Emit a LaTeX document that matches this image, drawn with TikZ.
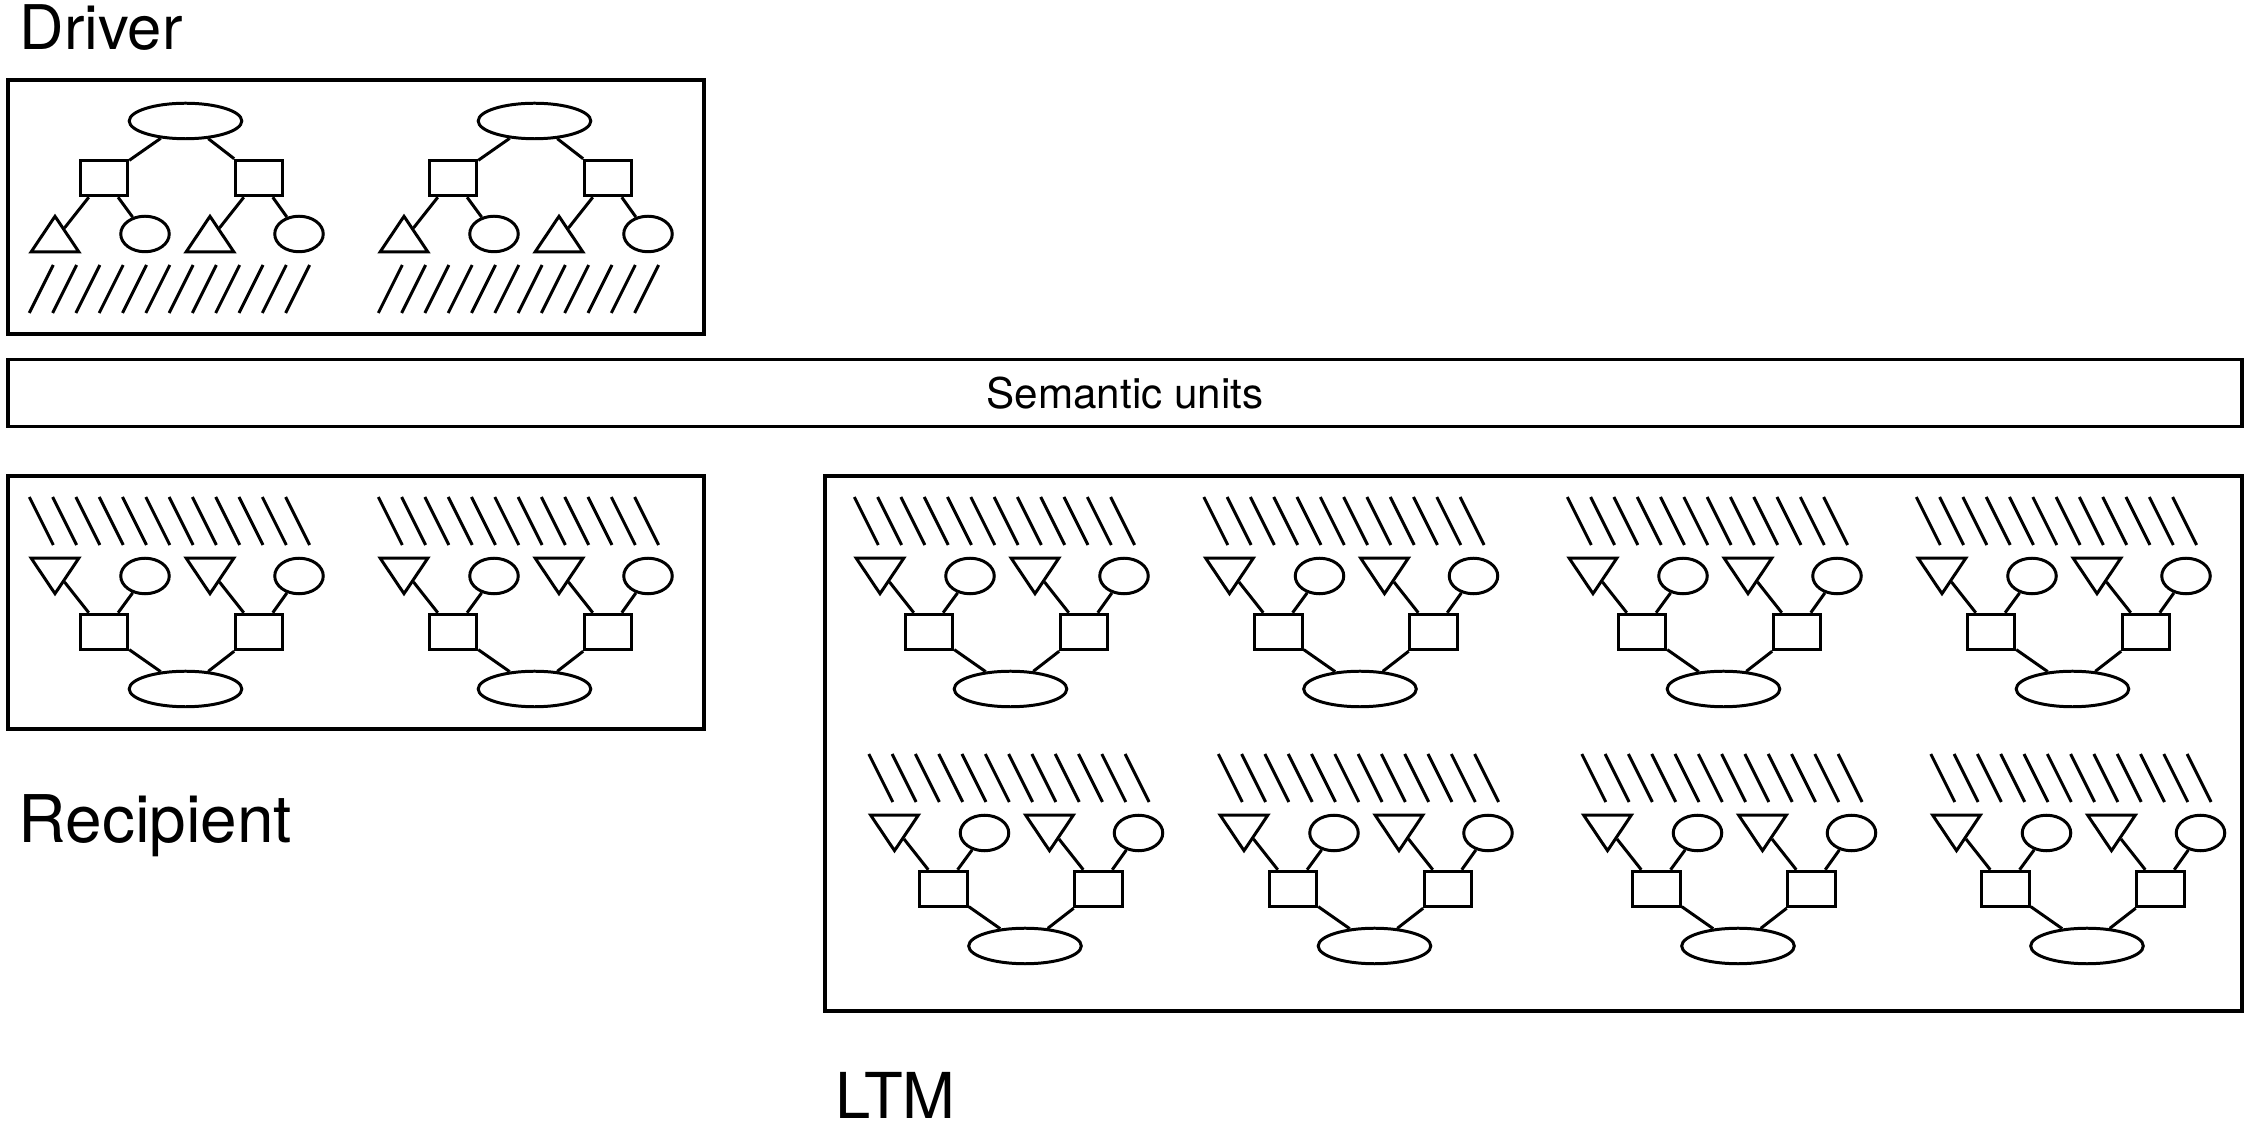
\documentclass[tikz,border=0pt]{standalone}
\usepackage{fontspec}
\setmainfont{TeX Gyre Heros}
\usetikzlibrary{shapes.geometric}

\begin{document}
\begin{tikzpicture}[x=0.01cm,y=-0.01cm,
  box/.style={draw,line width=0.95pt},
  prop/.style={draw,ellipse,line width=0.85pt,inner sep=0pt,minimum width=1.125cm,minimum height=0.355cm},
  rb/.style={draw,rectangle,line width=0.85pt,inner sep=0pt,minimum width=0.475cm,minimum height=0.355cm},
  pred/.style={draw,regular polygon,regular polygon sides=3,line width=0.85pt,inner sep=0pt,minimum size=0.55cm,yscale=0.86},
  obj/.style={draw,ellipse,line width=0.85pt,inner sep=0pt,minimum width=0.485cm,minimum height=0.355cm},
  link/.style={line width=0.85pt},
  hatch/.style={line width=0.85pt},
  lbl/.style={anchor=base west,inner sep=0pt,font=\fontsize{17.5}{20}\selectfont}]
\useasboundingbox (0,0) rectangle (2250,1128);

% Memory stores
\draw[box] (8,80) rectangle (704,334);
\draw[box] (8,476) rectangle (704,729);
\draw[box] (825,476) rectangle (2242,1011);
\node[box,inner sep=0pt,minimum width=22.33cm,minimum height=0.67cm,font=\fontsize{12}{14}\selectfont] (sem) at (1125,393) {Semantic units};

% Labels
\node[lbl] (drv) at (19,50) {Driver};
\node[lbl,font=\fontsize{18.7}{21}\selectfont] (rcp) at (18,843) {Recipient};
\node[lbl,font=\fontsize{18}{21}\selectfont] (ltm) at (835,1119) {LTM};

% Propositions (s=1: driver, s=-1: recipient and LTM)
\foreach \x/\y/\s/\r [count=\u] in {185.5/121/1/0, 534.5/121/1/0,
    185.5/689/-1/180, 534.5/689/-1/180,
    1010.5/689/-1/180, 1360/689/-1/180, 1723.5/689/-1/180, 2072.5/689/-1/180,
    1025/946/-1/180, 1374.5/946/-1/180, 1738/946/-1/180, 2087/946/-1/180}{
  \node[prop] (P\u) at (\x,\y) {};
  \node[rb] (RBa\u) at ({\x-81.5},{\y+57*\s}) {};
  \node[rb] (RBb\u) at ({\x+73.5},{\y+57*\s}) {};
  \node[pred,shape border rotate=\r] (PRa\u) at ({\x-130.5},{\y+119*\s}) {};
  \node[pred,shape border rotate=\r] (PRb\u) at ({\x+24.5},{\y+119*\s}) {};
  \node[obj] (OBa\u) at ({\x-40.5},{\y+113*\s}) {};
  \node[obj] (OBb\u) at ({\x+113.5},{\y+113*\s}) {};
  \draw[link] (P\u) -- (RBa\u) (P\u) -- (RBb\u)
    (RBa\u) -- (PRa\u) (RBa\u) -- (OBa\u)
    (RBb\u) -- (PRb\u) (RBb\u) -- (OBb\u);
  % connections to semantic units
  \foreach \k in {0,...,11}
    \draw[hatch] ({\x-156.2+23.3*\k},{\y+192*\s}) -- ++(24,{-48*\s});
}
\end{tikzpicture}
\end{document}
